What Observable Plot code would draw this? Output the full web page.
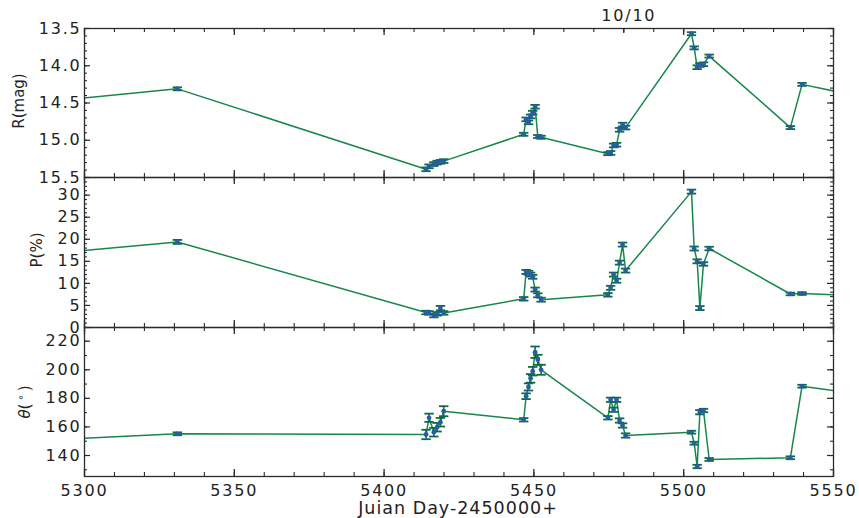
<!DOCTYPE html>
<html>
<head>
<meta charset="utf-8">
<script src="https://cdn.jsdelivr.net/npm/d3@7"></script>
<script src="https://cdn.jsdelivr.net/npm/@observablehq/plot@0.6"></script>
<style>
  body { margin: 0; background: #fff; }
  #chart { position: relative; width: 859px; height: 518px; font-family: "DejaVu Sans", sans-serif; color: #222; }
  #chart svg { display: block; }
  .ylab { position: absolute; white-space: nowrap; transform: translate(-50%, -50%) rotate(-90deg); font-size: 15px; line-height: 1; }
  .xlab { position: absolute; white-space: nowrap; transform: translate(-50%, -50%); font-size: 17.5px; letter-spacing: 1px; line-height: 1; }
</style>
</head>
<body>
<div id="chart"></div>
<script>
// Observation epochs (Julian Day - 2450000); the first and last lie just outside the plotted window
const jd = [5285, 5331.0,
  5414.0, 5415.0, 5416.6, 5417.7, 5418.8, 5419.9,
  5446.6, 5447.4, 5448.2, 5448.9, 5449.6, 5450.4, 5451.3, 5452.4,
  5474.7, 5475.6, 5476.6, 5477.6, 5478.6, 5479.6, 5480.6,
  5502.6, 5503.5, 5504.5, 5505.4, 5506.6, 5508.5,
  5535.6, 5539.5, 5562];

// R-band magnitude
const rMag = [14.49, 14.31,
  15.39, 15.35, 15.32, 15.30, 15.29, 15.28,
  14.92, 14.72, 14.76, 14.68, 14.63, 14.55, 14.95, 14.96,
  15.18, 15.17, 15.07, 15.06, 14.86, 14.79, 14.83,
  13.57, 13.76, 14.02, 13.99, 13.98, 13.87,
  14.83, 14.25, 14.44];
const rErr = [0.02, 0.02,
  0.025, 0.025, 0.025, 0.025, 0.025, 0.025,
  0.02, 0.025, 0.025, 0.025, 0.025, 0.025, 0.02, 0.02,
  0.02, 0.025, 0.025, 0.025, 0.025, 0.025, 0.025,
  0.02, 0.02, 0.025, 0.025, 0.025, 0.02,
  0.02, 0.02, 0.02];

// Polarization degree (%)
const polP = [16.5, 19.4,
  3.4, 3.3, 2.7, 3.1, 4.4, 3.3,
  6.5, 12.6, 12.4, 12.0, 11.5, 8.6, 7.3, 6.3,
  7.4, 9.0, 12.0, 10.6, 14.7, 18.8, 12.9,
  30.8, 17.9, 15.0, 4.4, 14.4, 17.9,
  7.6, 7.7, 7.1];
const polErr = [0.4, 0.45,
  0.4, 0.4, 0.4, 0.4, 0.5, 0.4,
  0.4, 0.45, 0.45, 0.45, 0.45, 0.45, 0.45, 0.45,
  0.4, 0.45, 0.45, 0.45, 0.45, 0.45, 0.45,
  0.45, 0.45, 0.45, 0.45, 0.4, 0.4,
  0.3, 0.3, 0.3];

// Polarization angle (degrees)
const polAngle = [150.6, 155.2,
  154.7, 166.4, 156.3, 159.8, 163.3, 171.0,
  165.0, 181.5, 188.0, 194.0, 199.0, 212.3, 207.0, 200.0,
  166.4, 179.0, 172.0, 179.0, 164.5, 161.0, 154.0,
  156.3, 148.6, 132.3, 170.3, 171.5, 137.2,
  138.4, 188.5, 182.0];
const angleErr = [1, 1,
  3.3, 2.9, 3.0, 3.0, 3.0, 3.5,
  1.2, 2.0, 2.5, 3.0, 3.0, 4.0, 3.5, 3.5,
  1.2, 1.5, 1.5, 1.5, 1.5, 1.5, 1.5,
  1.0, 1.0, 1.2, 1.5, 1.2, 1.0,
  1.0, 1.0, 1.0];

// Axis ticks
const majorX = [5300, 5350, 5400, 5450, 5500, 5550];
const minorX = d3.range(5300, 5551, 10);
const dateTick = [5480];
const dateTickLabel = ["10/10"];
const rMajor = [13.5, 14.0, 14.5, 15.0, 15.5];
const rMinor = d3.range(135, 156, 1).map(d => d / 10);
const pMajor = [0, 5, 10, 15, 20, 25, 30];
const pMinor = d3.range(0, 35, 1);
const aMajor = [140, 160, 180, 200, 220];
const aMinor = [130, 140, 150, 160, 170, 180, 190, 200, 210, 220];

const W = 859, ML = 84, MR = 26;
const plotW = W - ML - MR;
const LINE = "#17874c", ERR = "#0b6c47", MARK = "#2a5aa8", AX = "#2b2b2b";

// horizontal cap drawn at each end of an error bar
const capSymbol = {
  draw(ctx, size) {
    const r = Math.sqrt(size / Math.PI);
    ctx.moveTo(-r, 0);
    ctx.lineTo(r, 0);
  }
};

function panel(o) {
  const plotH = o.height - o.marginTop - o.marginBottom;
  const rows = jd.map((x, i) => ({x, v: o.values[i], e: o.errors[i]}));
  const marks = [
    Plot.line(rows, {x: "x", y: "v", stroke: LINE, strokeWidth: 1.5, clip: true}),
    Plot.ruleX(rows, {x: "x", y1: d => d.v - d.e, y2: d => d.v + d.e, stroke: ERR, strokeWidth: 1.6, clip: true}),
    Plot.dot(rows, {x: "x", y: d => d.v - d.e, symbol: capSymbol, r: 4.7, fill: "none", stroke: ERR, strokeWidth: 1.8, clip: true}),
    Plot.dot(rows, {x: "x", y: d => d.v + d.e, symbol: capSymbol, r: 4.7, fill: "none", stroke: ERR, strokeWidth: 1.8, clip: true}),
    Plot.dot(rows, {x: "x", y: "v", r: 2.4, fill: MARK, stroke: "none", clip: true}),
    // inward ticks on all four sides
    Plot.tickY(o.minorY, {y: d => d, insetRight: plotW - 3, stroke: AX, strokeWidth: 1.1}),
    Plot.tickY(o.minorY, {y: d => d, insetLeft: plotW - 3, stroke: AX, strokeWidth: 1.1}),
    Plot.tickY(o.majorY, {y: d => d, insetRight: plotW - 6, stroke: AX, strokeWidth: 1.2}),
    Plot.tickY(o.majorY, {y: d => d, insetLeft: plotW - 6, stroke: AX, strokeWidth: 1.2}),
    Plot.tickX(minorX, {x: d => d, insetTop: plotH - 4, stroke: AX, strokeWidth: 1.1}),
    Plot.tickX(minorX, {x: d => d, insetBottom: plotH - 4, stroke: AX, strokeWidth: 1.1}),
    Plot.tickX(majorX, {x: d => d, insetTop: plotH - 7, stroke: AX, strokeWidth: 1.3}),
    Plot.tickX(majorX, {x: d => d, insetBottom: plotH - 7, stroke: AX, strokeWidth: 1.3}),
    Plot.frame({stroke: AX, strokeWidth: 1.3}),
    Plot.axisY(o.majorY, {anchor: "left", tickSize: 0, tickPadding: 3, tickFormat: o.fmt, label: null})
  ];
  if (o.extra) marks.push(...o.extra);
  return Plot.plot({
    width: W,
    height: o.height,
    marginLeft: ML,
    marginRight: MR,
    marginTop: o.marginTop,
    marginBottom: o.marginBottom,
    x: {domain: [5300, 5550], axis: o.xAxis ? undefined : null},
    y: {domain: o.domain, reverse: !!o.reverse},
    style: {fontFamily: "DejaVu Sans", fontSize: "16px", letterSpacing: "1.8px", color: "#222", background: "transparent", overflow: "visible"},
    marks
  });
}

const chart = document.getElementById("chart");

chart.append(panel({
  values: rMag, errors: rErr, domain: [13.5, 15.5], reverse: true,
  majorY: rMajor, minorY: rMinor, fmt: d3.format(".1f"),
  height: 177, marginTop: 28, marginBottom: 0, xAxis: true,
  extra: [
    Plot.axisX(dateTick, {anchor: "top", tickSize: 0, tickPadding: 8, dx: 5, tickFormat: (d, i) => dateTickLabel[i], label: null}),
    Plot.tickX(dateTick, {x: d => d, insetBottom: 149 - 5, stroke: AX, strokeWidth: 1.3})
  ]
}));

chart.append(panel({
  values: polP, errors: polErr, domain: [0, 34],
  majorY: pMajor, minorY: pMinor, fmt: d => String(d),
  height: 150, marginTop: 0, marginBottom: 0, xAxis: false
}));

chart.append(panel({
  values: polAngle, errors: angleErr, domain: [125.3, 229.6],
  majorY: aMajor, minorY: aMinor, fmt: d => String(d),
  height: 191, marginTop: 0, marginBottom: 42, xAxis: true,
  extra: [
    Plot.axisX(majorX, {anchor: "bottom", tickSize: 0, tickPadding: 8, tickFormat: d => String(d), label: null})
  ]
}));

// axis titles
const titles = [
  {cls: "ylab", x: 18.5, y: 101, html: "R(mag)"},
  {cls: "ylab", x: 36.5, y: 250, html: "P(%)"},
  {cls: "ylab", x: 24, y: 402, html: "<i>θ</i>(<span style=\"font-size:10px;vertical-align:6px;padding:0 3px\">∘</span>)"},
  {cls: "xlab", x: 458, y: 509, html: "Juian Day-2450000+"}
];
for (const t of titles) {
  const el = document.createElement("div");
  el.className = t.cls;
  el.style.left = t.x + "px";
  el.style.top = t.y + "px";
  el.innerHTML = t.html;
  chart.append(el);
}
</script>
</body>
</html>
